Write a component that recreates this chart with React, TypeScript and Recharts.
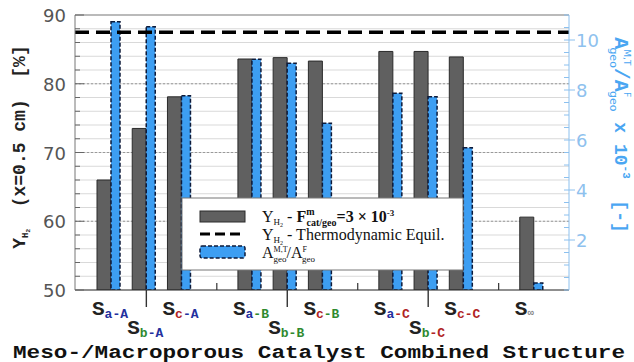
import { ComposedChart, Bar, XAxis, YAxis, CartesianGrid, ReferenceLine } from "recharts";

// categories (gap slots separate the A / B / C families)
const categories = ["a-A", "b-A", "c-A", "gap1", "a-B", "b-B", "c-B", "gap2", "a-C", "b-C", "c-C", "gap3", "inf"];
// Y_H2 at x=0.5 cm [%], left axis
const yieldH2 = [66.0, 73.5, 78.1, null, 83.6, 83.8, 83.3, null, 84.7, 84.7, 83.9, null, 60.6];
// A_geo^{M,T}/A_geo^F x 10^-3, right axis
const areaRatio = [10.73, 10.53, 7.77, null, 9.23, 9.07, 6.67, null, 7.87, 7.73, 5.69, null, 0.28];
const equilibrium = 87.5;

const leftTicks = [50, 52, 54, 56, 58, 60, 62, 64, 66, 68, 70, 72, 74, 76, 78, 80, 82, 84, 86, 88, 90];
const majorTicks = [60, 70, 80];
const rightTicks = [0, 0.5, 1, 1.5, 2, 2.5, 3, 3.5, 4, 4.5, 5, 5.5, 6, 6.5, 7, 7.5, 8, 8.5, 9, 9.5, 10, 10.5, 11];

const data = categories.map((c, i) => ({ cat: c, yieldH2: yieldH2[i], ratio: areaRatio[i] }));

const PLOT_LEFT = 75;
const PLOT_RIGHT = 569;
const PLOT_BOTTOM = 290;

const MONO = "'Liberation Mono', 'DejaVu Sans Mono', monospace";
const SANS = "'DejaVu Sans', sans-serif";
const SERIF = "'Liberation Serif', serif";

const letterColor: Record<string, string> = {
  a: "#23309e", b: "#2f8a2f", c: "#b02424",
  A: "#23309e", B: "#2f8a2f", C: "#b02424",
};

function XTick(props: any) {
  const { x, payload } = props;
  const cat: string = payload.value;
  const edge = x + 2.5;
  if (cat.startsWith("gap")) {
    return <line x1={edge} x2={edge} y1={PLOT_BOTTOM - 7} y2={PLOT_BOTTOM} stroke="#333" strokeWidth={1.2} />;
  }
  if (cat === "inf") {
    return (
      <text x={x - 16.6} y={315} fontFamily={MONO} fontWeight="bold" fontSize={21} fill="#222">
        S<tspan fontSize={11} dy={1} fill="#888">∞</tspan>
      </text>
    );
  }
  const lower = cat[0] === "b";
  const base = lower ? 334 : 315;
  return (
    <g>
      {lower && <line x1={edge} x2={edge} y1={PLOT_BOTTOM} y2={307} stroke="#333" strokeWidth={1.4} />}
      <text x={x - 16.6} y={base} fontFamily={MONO} fontWeight="bold" fontSize={21} fill="#222">
        S
        <tspan fontSize={13} dy={3} fill={letterColor[cat[0]]}>{cat[0]}</tspan>
        <tspan fontSize={13} fill={letterColor[cat[2]]}>{"-" + cat[2]}</tspan>
      </text>
    </g>
  );
}

function LeftTick(props: any) {
  const { y, payload } = props;
  const v = payload.value;
  const major = v % 10 === 0;
  return (
    <g>
      <line x1={PLOT_LEFT} x2={PLOT_LEFT + (major ? 9 : 5)} y1={y} y2={y} stroke="#666" />
      {major && (
        <text x={66} y={y + 7} textAnchor="end" fontFamily={SANS} fontSize={18} fill="#555">{v}</text>
      )}
    </g>
  );
}

function RightTick(props: any) {
  const { y, payload } = props;
  const v = payload.value;
  const major = v > 0 && v % 2 === 0;
  return (
    <g>
      <line x1={PLOT_RIGHT - 5} x2={PLOT_RIGHT + (major ? 6 : 0)} y1={y} y2={y} stroke="#8cc0ee" />
      {major && (
        <text x={576} y={y + 7} fontFamily={SANS} fontSize={18} fill="#8ec1ee">{v}</text>
      )}
    </g>
  );
}

export default function App() {
  return (
    <div style={{ position: "absolute", left: 0, top: 0, width: 634, height: 362, background: "#fff" }}>
      <ComposedChart
        width={634}
        height={362}
        data={data}
        margin={{ top: 15, right: 0, bottom: 12, left: 0 }}
        barGap={0}
      >
        <CartesianGrid yAxisId="left" vertical={false} stroke="#d9d9d9" />
        <CartesianGrid
          yAxisId="left"
          vertical={false}
          horizontalValues={majorTicks}
          stroke="#999"
          strokeDasharray="2 2"
        />
        <XAxis
          dataKey="cat"
          height={60}
          padding={{ left: 16, right: 20 }}
          interval={0}
          tickLine={false}
          axisLine={{ stroke: "#333", strokeWidth: 1.2 }}
          tick={XTick}
        />
        <YAxis
          yAxisId="left"
          width={75}
          domain={[50, 90]}
          ticks={leftTicks}
          interval={0}
          allowDataOverflow
          tickLine={false}
          axisLine={{ stroke: "#777" }}
          tick={LeftTick}
        />
        <YAxis
          yAxisId="right"
          orientation="right"
          width={65}
          domain={[0, 11]}
          ticks={rightTicks}
          interval={0}
          allowDataOverflow
          tickLine={false}
          axisLine={{ stroke: "#8cc0ee" }}
          tick={RightTick}
        />
        <Bar
          yAxisId="left"
          dataKey="yieldH2"
          barSize={14}
          fill="#606060"
          stroke="#2a2a2a"
          strokeWidth={1}
          isAnimationActive={false}
        />
        <Bar
          yAxisId="right"
          dataKey="ratio"
          barSize={9}
          fill="#3d9ef2"
          stroke="#0c1a3a"
          strokeWidth={1.5}
          strokeDasharray="4 2"
          isAnimationActive={false}
        />
        <ReferenceLine yAxisId="left" y={90} stroke="#888" />
        <ReferenceLine yAxisId="left" y={equilibrium} stroke="#000" strokeWidth={3.5} strokeDasharray="14 7" />
      </ComposedChart>

      <svg width={634} height={362} style={{ position: "absolute", left: 0, top: 0, pointerEvents: "none" }}>
        {/* left axis title */}
        <text
          transform="translate(25,147) rotate(-90)"
          textAnchor="middle"
          fontFamily={MONO}
          fontWeight="bold"
          fontSize={18}
          fill="#222"
          style={{ whiteSpace: "pre" }}
        >
          Y<tspan fontSize={9} dy={3}>H</tspan><tspan fontSize={6} dy={2}>2</tspan>
          <tspan dy={-5}>{"  (x=0.5 cm)  [%]"}</tspan>
        </text>

        {/* right axis title */}
        <text
          transform="translate(615,135) rotate(90)"
          textAnchor="middle"
          fontFamily={MONO}
          fontWeight="bold"
          fontSize={20}
          fill="#4aa6f2"
          style={{ whiteSpace: "pre" }}
        >
          A<tspan fontFamily={SANS} fontWeight="normal" fontSize={9} dy={-9}>M,T</tspan>
          <tspan fontFamily={SANS} fontWeight="normal" fontSize={11} dx={-18} dy={14}>geo</tspan>
          <tspan dy={-5}>/A</tspan>
          <tspan fontFamily={SANS} fontWeight="normal" fontSize={9} dy={-9}>F</tspan>
          <tspan fontFamily={SANS} fontWeight="normal" fontSize={11} dx={-6} dy={14}>geo</tspan>
          <tspan fontSize={18} dy={-5}>{" x 10"}</tspan>
          <tspan fontSize={11} dy={-8}>-3</tspan>
          <tspan fontSize={18} dy={8}>{"  [-]"}</tspan>
        </text>

        {/* x axis title */}
        <text x={13} y={358} textLength={612} lengthAdjust="spacingAndGlyphs" fontFamily={MONO} fontWeight="bold" fontSize={19} fill="#111">
          Meso-/Macroporous Catalyst Combined Structure
        </text>

        {/* legend */}
        <rect x={182} y={198} width={281} height={72} fill="#fff" stroke="#777" />
        <rect x={200} y={211} width={45} height={11} fill="#606060" stroke="#2a2a2a" />
        <line x1={200} x2={245} y1={234} y2={234} stroke="#000" strokeWidth={3} strokeDasharray="10 5" />
        <rect x={200} y={246} width={45} height={12} rx={2} fill="#3d9ef2" stroke="#0c1a3a" strokeWidth={1.5} strokeDasharray="4 2" />
        <text x={262} y={222} fontFamily={SERIF} fontSize={16} fill="#111" style={{ whiteSpace: "pre" }}>
          Y<tspan fontSize={9} dy={3}>H</tspan><tspan fontSize={6} dy={2}>2</tspan>
          <tspan dy={-5}>{" - "}</tspan>
          <tspan fontWeight="bold">F</tspan>
          <tspan fontWeight="bold" fontSize={10} dy={-7}>m</tspan>
          <tspan fontWeight="bold" fontSize={10} dx={-8} dy={11}>cat/geo</tspan>
          <tspan fontWeight="bold" dy={-4}>{"=3 × 10"}</tspan>
          <tspan fontWeight="bold" fontSize={9} dy={-6}>-3</tspan>
        </text>
        <text x={262} y={240} fontFamily={SERIF} fontSize={16} fill="#111" style={{ whiteSpace: "pre" }}>
          Y<tspan fontSize={9} dy={3}>H</tspan><tspan fontSize={6} dy={2}>2</tspan>
          <tspan dy={-5}>{" - Thermodynamic Equil."}</tspan>
        </text>
        <text x={262} y={258} fontFamily={SERIF} fontSize={16} fill="#111">
          A<tspan fontSize={8} dy={-6}>M,T</tspan>
          <tspan fontSize={9} dx={-14} dy={10}>geo</tspan>
          <tspan dy={-4}>/A</tspan>
          <tspan fontSize={8} dy={-6}>F</tspan>
          <tspan fontSize={9} dx={-5} dy={10}>geo</tspan>
        </text>
      </svg>
    </div>
  );
}
